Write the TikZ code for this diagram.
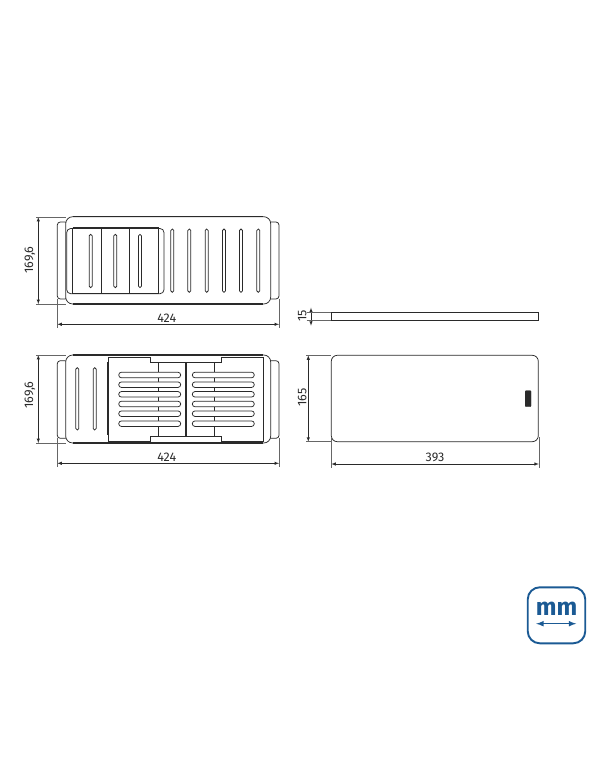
\documentclass[tikz,border=0pt]{standalone}
\usepackage{fontspec}
\setmainfont{Fira Sans}
\definecolor{iconblue}{HTML}{1B5A94}
\definecolor{partline}{HTML}{2A2A2A}
\tikzset{
  part/.style={draw=partline, line width=0.75pt, fill=white},
  thick edge/.style={draw=partline, line width=1.3pt},
  thin edge/.style={draw=partline, line width=0.6pt},
  slot/.style={part, rounded corners=1.5pt},
  hslot/.style={part, rounded corners=2.8pt},
  dimension/.style={draw=partline, line width=0.55pt, latex-latex},
  extension/.style={draw=black!60, line width=0.5pt},
  size/.style={font=\fontsize{12.5}{14}\selectfont, text=partline, inner sep=0pt}
}
\begin{document}
\begin{tikzpicture}[x=1pt, y=-1pt]
  \useasboundingbox (0,0) rectangle (600,770);

  % first view, with the tray on the left
  \draw[part, rounded corners=3pt] (57.3,222) rectangle (68,299);
  \draw[part, rounded corners=3pt] (268,222) rectangle (279,299);
  \draw[part, rounded corners=7pt] (65.7,216.7) rectangle (270.7,304);
  \draw[thick edge] (73,216.7) -- (263,216.7);
  \draw[thick edge] (73,304) -- (263,304);
  \foreach \x in {172.3,189.3,206.7,224,241,258.3}
    \draw[slot] (\x-1.5,229) rectangle (\x+1.5,292.3);
  \draw[part, rounded corners=4pt] (66.7,228.5) rectangle (164,293.7);
  \draw[thick edge] (72.7,228) -- (159,228);
  \draw[thick edge] (72.7,293.5) -- (159,293.5);
  \foreach \x in {72.7,101.7,129.7,158.3}
    \draw[thin edge] (\x,228) -- (\x,293.5);
  \foreach \x in {90.7,115.3,140}
    \draw[slot] (\x-1.5,234.3) rectangle (\x+1.5,287.7);

  % second view, with the tray on the right
  \draw[part, rounded corners=3pt] (57.3,360.7) rectangle (68,438.3);
  \draw[part, rounded corners=3pt] (268,360.7) rectangle (279,438.3);
  \draw[part, rounded corners=7pt] (65.7,355) rectangle (270.7,443);
  \draw[thick edge] (73,355) -- (263,355);
  \draw[thick edge] (73,443) -- (263,443);
  \foreach \x in {77.3,94.7}
    \draw[slot] (\x-1.5,367.7) rectangle (\x+1.5,430);
  \draw[part] (108.3,357.3) -- (150.7,357.3) -- (150.7,362.7) -- (221.7,362.7) -- (221.7,357.3)
    -- (263.3,357.3) -- (263.3,441) -- (221.7,441) -- (221.7,436) -- (150.7,436) -- (150.7,441)
    -- (108.3,441) -- cycle;
  \draw[thick edge] (107.5,362) -- (107.5,435);
  \draw[thick edge] (263.5,362) -- (263.5,435);
  \foreach \x in {158.3,214.7}
    \draw[thin edge] (\x,362.7) -- (\x,436);
  \draw[thick edge] (186,362.7) -- (186,436);
  \foreach \y in {375,384.7,394.3,404,413.7,423.7} {
    \draw[hslot] (118.7,\y-2.8) rectangle (180.7,\y+2.8);
    \draw[hslot] (192.3,\y-2.8) rectangle (254.3,\y+2.8);
  }

  % side view and board
  \draw[part] (331.3,312) rectangle (538.3,320);
  \draw[part, rounded corners=6pt] (331.3,355.3) rectangle (538.3,441.7);
  \draw[fill=partline, draw=partline, rounded corners=0.8pt] (525.2,390.7) rectangle (531,406.7);

  % dimensions
  \coordinate (topA) at (38.3,217);
  \coordinate (topB) at (38.3,304);
  \coordinate (topC) at (57.3,324.3);
  \coordinate (topD) at (279,324.3);
  \coordinate (lowA) at (38.3,355);
  \coordinate (lowB) at (38.3,443);
  \coordinate (lowC) at (57.3,463.3);
  \coordinate (lowD) at (279,463.3);
  \coordinate (sideA) at (311,307.7);
  \coordinate (sideB) at (311,325.7);
  \coordinate (boardA) at (308.3,355.3);
  \coordinate (boardB) at (308.3,441.7);
  \coordinate (boardC) at (331.3,464);
  \coordinate (boardD) at (538.8,464);
  \draw[dimension] (topA) -- (topB);
  \draw[dimension] (topC) -- (topD);
  \draw[dimension] (lowA) -- (lowB);
  \draw[dimension] (lowC) -- (lowD);
  \draw[dimension] (sideA) -- (sideB);
  \draw[dimension] (boardA) -- (boardB);
  \draw[dimension] (boardC) -- (boardD);

  \draw[extension] (36,217) -- (66,217);
  \draw[extension] (36,304) -- (66,304);
  \draw[extension] (57.3,299) -- (57.3,328);
  \draw[extension] (279,299) -- (279,328);
  \draw[extension] (36,355) -- (66,355);
  \draw[extension] (36,443) -- (66,443);
  \draw[extension] (57.3,438) -- (57.3,467);
  \draw[extension] (279,438) -- (279,467);
  \draw[extension] (306.5,312) -- (331,312);
  \draw[extension] (306.5,320) -- (331,320);
  \draw[extension] (306,355.3) -- (331,355.3);
  \draw[extension] (306,441.7) -- (331,441.7);
  \draw[extension] (331.3,437) -- (331.3,468);
  \draw[extension] (538.8,437) -- (538.8,468);

  \node[size, rotate=90] (topheight) at (30,260) {169,6};
  \node[size] (topwidth) at (166.7,318) {424};
  \node[size, rotate=90] (lowheight) at (30,395) {169,6};
  \node[size] (lowwidth) at (166.7,457.5) {424};
  \node[size, rotate=90] (sideheight) at (302.3,315.7) {15};
  \node[size, rotate=90] (boardheight) at (302.3,397.7) {165};
  \node[size] (boardwidth) at (435,457.3) {393};

  % unit icon
  \node[draw=iconblue, line width=1.9pt, rounded corners=12pt, minimum width=57.5pt, minimum height=56pt] (unitbox) at (556.5,615.3) {};
  \node[text=iconblue, inner sep=0pt, font=\fontsize{24.5}{26}\selectfont\bfseries] (unitlabel) at (556.5,608.5) {mm};
  \coordinate (unitL) at (536.2,623.7);
  \coordinate (unitR) at (576.2,623.7);
  \draw[draw=iconblue, line width=1.5pt, latex-latex] (unitL) -- (unitR);
\end{tikzpicture}
\end{document}
